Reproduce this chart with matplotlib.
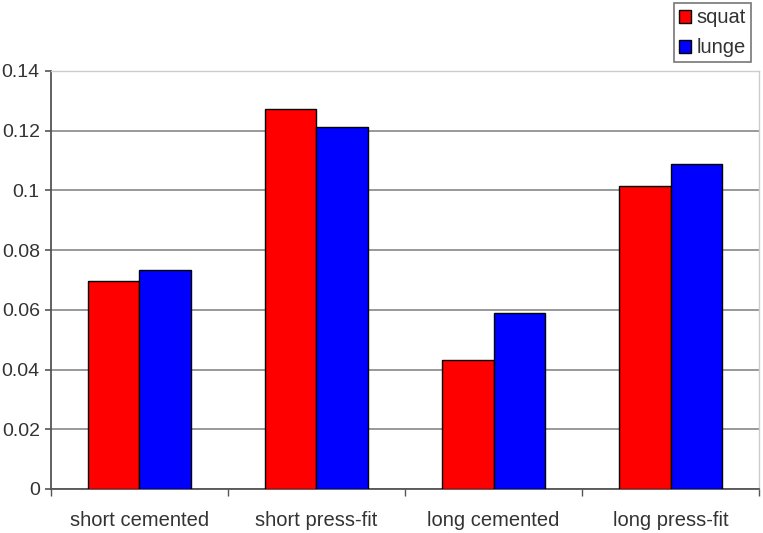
import numpy as np
import matplotlib
matplotlib.use('Agg')
import matplotlib.pyplot as plt

plt.rcParams['font.family'] = ['Liberation Sans', 'DejaVu Sans']

categories = ['short cemented', 'short press-fit', 'long cemented', 'long press-fit']
squat = [0.0695, 0.1272, 0.0433, 0.1014]
lunge = [0.0735, 0.1212, 0.0591, 0.1088]
yticks = [0, 0.02, 0.04, 0.06, 0.08, 0.1, 0.12, 0.14]
ytick_labels = ['0', '0.02', '0.04', '0.06', '0.08', '0.1', '0.12', '0.14']

fig = plt.figure(figsize=(7.63, 5.33), dpi=100)
ax = fig.add_axes([0.0668, 0.0826, 0.928, 0.7842])

x = np.arange(len(categories))
w = 0.29
b1 = ax.bar(x - w/2, squat, w, color='#ff0000', edgecolor='black', linewidth=1, label='squat', zorder=3)
b2 = ax.bar(x + w/2, lunge, w, color='#0000ff', edgecolor='black', linewidth=1, label='lunge', zorder=3)

ax.set_xlim(-0.5, len(categories) - 0.5)
ax.set_ylim(0, 0.14)
ax.set_yticks(yticks)
ax.set_yticklabels(ytick_labels, fontsize=14, color='#333333')
ax.set_xticks(x)
ax.set_xticklabels(categories, fontsize=14.5, color='#333333')
ax.tick_params(axis='x', length=0, pad=16)
ax.set_xticks(np.arange(len(categories) + 1) - 0.5, minor=True)
ax.tick_params(axis='x', which='minor', length=5, color='#555555', width=1, direction='out')
ax.tick_params(axis='y', length=4, color='#555555', width=1.2, direction='out', pad=4)

ax.yaxis.grid(True, color='#888888', linewidth=1.2, zorder=0)
ax.set_axisbelow(True)
for s in ['top', 'right']:
    ax.spines[s].set_color('#cccccc')
    ax.spines[s].set_linewidth(1)
for s in ['left', 'bottom']:
    ax.spines[s].set_color('#555555')
    ax.spines[s].set_linewidth(1.3)

leg = fig.legend(handles=[b1, b2], loc='upper right', bbox_to_anchor=(0.984, 0.994),
                 fontsize=14.5, frameon=True, fancybox=False, edgecolor='#555555',
                 handlelength=0.6, handleheight=0.6, handletextpad=0.25,
                 labelspacing=0.55, borderpad=0.25, borderaxespad=0)
leg.get_frame().set_linewidth(1.2)
for t in leg.get_texts():
    t.set_color('#333333')

fig.savefig('out.png', dpi=100)
